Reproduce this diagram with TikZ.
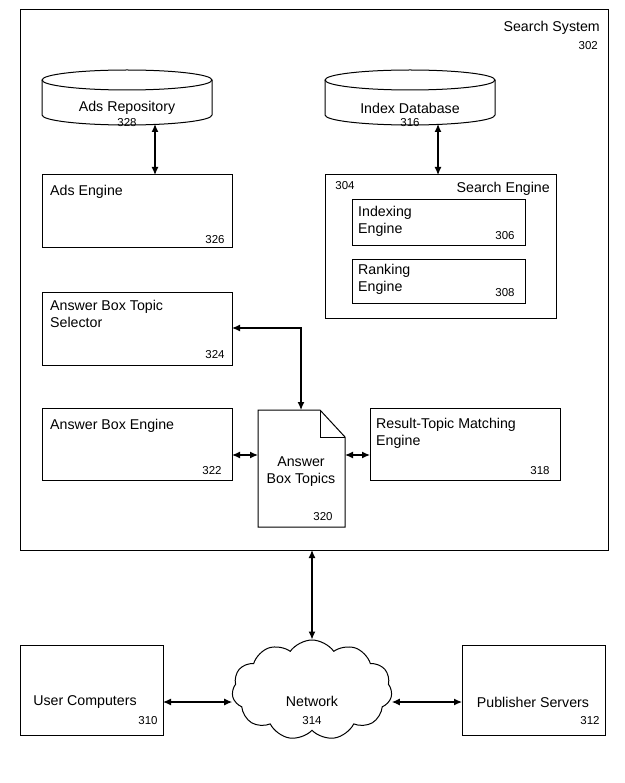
\documentclass[tikz,border=0pt]{standalone}
\usepackage{fontspec}
\setmainfont{Liberation Sans}
\usetikzlibrary{shapes.symbols,shapes.geometric,arrows.meta}
\begin{document}
\begin{tikzpicture}[x=1pt,y=-1pt,
  box/.style={draw,line width=1pt},
  lbl/.style={font=\fontsize{14.2}{17}\selectfont,align=left,anchor=north west,inner sep=0},
  big/.style={font=\fontsize{14.2}{17}\selectfont,inner sep=0},
  num/.style={font=\fontsize{11.5}{13}\selectfont,inner sep=0},
  arr/.style={line width=1.2pt,{Latex[length=8pt,width=7pt]}-{Latex[length=8pt,width=7pt]}}]
\useasboundingbox (0,0) rectangle (624,783);
\draw[box] (20,10) rectangle (608,550);
\node[big,anchor=east] (ss) at (600,28) {Search System};
\node[num,anchor=east] (n302) at (598,46) {302};
% cylinders
\draw[box] (42,80) arc[start angle=180,end angle=-180,x radius=85pt,y radius=10pt];
\draw[box] (42,80) -- (42,115) arc[start angle=180,end angle=360,x radius=85pt,y radius=10pt] -- (212,80);
\coordinate (adsB) at (155,124);
\node[big] (adsl) at (127,108) {Ads Repository};
\node[num] (n328) at (127,123) {328};
\draw[box] (325,80) arc[start angle=180,end angle=-180,x radius=85pt,y radius=10pt];
\draw[box] (325,80) -- (325,115) arc[start angle=180,end angle=360,x radius=85pt,y radius=10pt] -- (495,80);
\coordinate (idxB) at (438,124);
\node[big] (idxl) at (410,108) {Index Database};
\node[num] (n316) at (410,123) {316};
% ads engine
\draw[box] (42,175) rectangle (232,248);
\coordinate (adsE) at (155,175);
\node[lbl] (ae) at (50,185) {Ads Engine};
\node[num] (n326) at (215,240) {326};
% search engine
\draw[box] (325,175) rectangle (556,318);
\coordinate (seT) at (438,175);
\node[num] (n304) at (345,186) {304};
\node[big,anchor=east] (sel) at (550,189) {Search Engine};
\draw[box] (352,200) rectangle (525,246);
\node[lbl] (ie) at (358,206) {Indexing\\Engine};
\node[num] (n306) at (505,236) {306};
\draw[box] (352,260) rectangle (525,303);
\node[lbl] (re) at (358,264) {Ranking\\Engine};
\node[num] (n308) at (505,293) {308};
% selector
\draw[box] (42,292) rectangle (232,365);
\coordinate (selR) at (232,328);
\node[lbl] (ab) at (50,300) {Answer Box Topic\\Selector};
\node[num] (n324) at (215,355) {324};
% answer box engine
\draw[box] (42,408) rectangle (232,480);
\coordinate (abeR) at (232,455);
\node[lbl] (abe) at (50,419) {Answer Box Engine};
\node[num] (n322) at (212,471) {322};
% document
\draw[box] (258,410) -- (320,410) -- (345,437) -- (345,527) -- (258,527) -- cycle;
\draw[box] (320,410) -- (320,437) -- (345,437);
\coordinate (docL) at (258,455);
\coordinate (docR) at (345,455);
\coordinate (docT) at (301,410);
\node[big,align=center] (doc) at (301,472) {Answer\\Box Topics};
\node[num] (n320) at (323,517) {320};
% result-topic
\draw[box] (370,408) rectangle (560,480);
\coordinate (rtL) at (370,455);
\node[lbl] (rt) at (376,418) {Result-Topic Matching\\Engine};
\node[num] (n318) at (540,471) {318};
% arrows
\draw[arr] (adsB) -- (adsE);
\draw[arr] (idxB) -- (seT);
\draw[arr] (selR) -| (docT);
\draw[arr] (abeR) -- (docL);
\draw[arr] (docR) -- (rtL);
% bottom
\coordinate (ssB) at (312,550);
\node[draw,line width=1pt,cloud,cloud puffs=11,cloud puff arc=110,aspect=1.6,minimum width=160pt,minimum height=100pt] (net) at (312,690) {};
\node[big] (netl) at (312,701) {Network};
\node[num] (n314) at (312,721) {314};
\draw[box] (20,645) rectangle (163,735);
\coordinate (ucR) at (163,702);
\node[big] (uc) at (85,702) {User Computers};
\node[num] (n310) at (148,721) {310};
\draw[box] (462,645) rectangle (605,735);
\coordinate (psL) at (462,702);
\node[big] (ps) at (533,702) {Publisher Servers};
\node[num] (n312) at (590,721) {312};
\draw[arr] (ssB) -- (net.north);
\draw[arr] (ucR) -- (net.west |- ucR);
\draw[arr] (net.east |- psL) -- (psL);
\end{tikzpicture}
\end{document}
